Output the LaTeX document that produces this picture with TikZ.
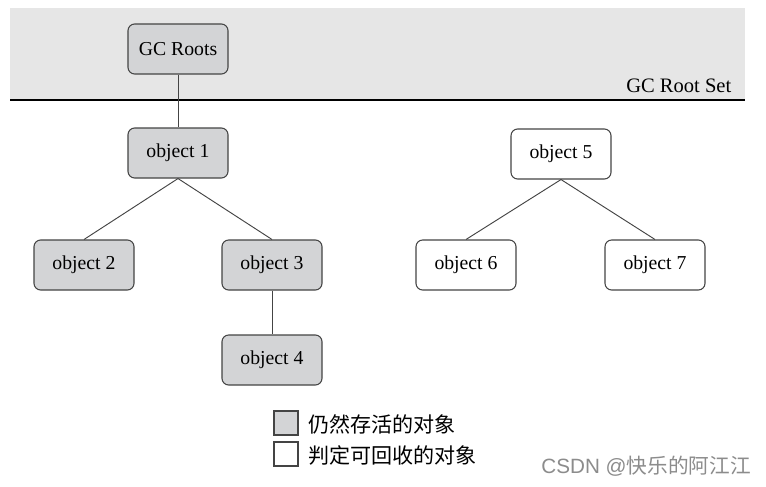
\documentclass[tikz,border=0pt]{standalone}
\usepackage{fontspec}
\setmainfont{Liberation Serif}
\newfontfamily\cjk{Noto Sans CJK SC}
\newfontfamily\wmsans{Liberation Sans}
\definecolor{bandgray}{HTML}{E6E6E6}
\definecolor{livegray}{HTML}{D3D4D6}
\definecolor{edgegray}{HTML}{444444}
\definecolor{wmgray}{HTML}{8C8C8C}
\begin{document}
\begin{tikzpicture}[x=0.75pt,y=-0.75pt,
  objbox/.style={draw=edgegray,line width=0.8pt,rounded corners=5pt,minimum width=75pt,minimum height=37.5pt,font=\fontsize{14.8}{16}\selectfont,inner sep=0pt},
  live/.style={objbox,fill=livegray},
  dead/.style={objbox,fill=white},
  link/.style={draw=edgegray,line width=0.7pt},
  legbox/.style={draw=edgegray,line width=0.8pt,minimum width=18pt,minimum height=18pt,inner sep=0pt},
  legtext/.style={anchor=west,font=\cjk\fontsize{15.8}{17}\selectfont,inner sep=0pt}]
\useasboundingbox (0,0) rectangle (766,486);
\fill[white] (0,0) rectangle (766,486);
\fill[bandgray] (10,8) rectangle (745,100);
\draw[black,line width=0.9pt] (10,100) -- (745,100);
\node[anchor=base east,font=\fontsize{15.4}{17}\selectfont] (rootset) at (736,92) {GC Root Set};

\node[live] (roots) at (178,49) {GC Roots};
\node[live] (o1) at (178,153) {object 1};
\node[live] (o2) at (84,265) {object 2};
\node[live] (o3) at (272,265) {object 3};
\node[live] (o4) at (272,360) {object 4};
\node[dead] (o5) at (561,154) {object 5};
\node[dead] (o6) at (466,265) {object 6};
\node[dead] (o7) at (655,265) {object 7};

\draw[link] (roots.south) -- (o1.north);
\draw[link] (o1.south) -- (o2.north);
\draw[link] (o1.south) -- (o3.north);
\draw[link] (o3.south) -- (o4.north);
\draw[link] (o5.south) -- (o6.north);
\draw[link] (o5.south) -- (o7.north);

\node[legbox,fill=livegray] (lg1) at (286,423) {};
\node[legbox,fill=white] (lg2) at (286,454) {};
\node[legtext] (lt1) at (308,424) {仍然存活的对象};
\node[legtext] (lt2) at (308,455) {判定可回收的对象};

\node[anchor=east,text=wmgray,inner sep=0pt] (csdn) at (751,466) {\wmsans\fontsize{15.5}{17}\selectfont CSDN @\cjk 快乐的阿江江};
\end{tikzpicture}
\end{document}
